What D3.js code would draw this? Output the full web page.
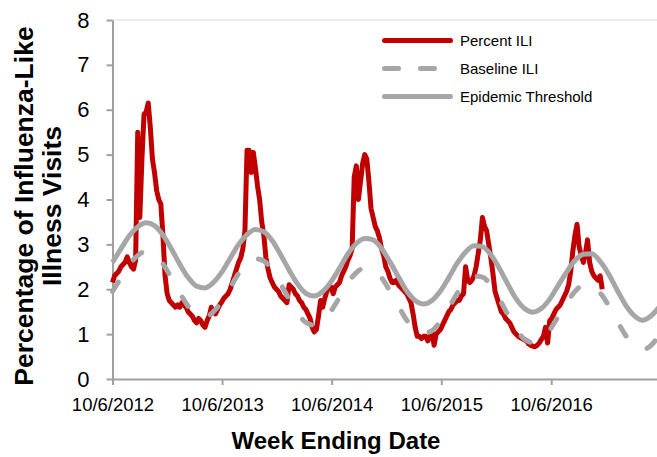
<!DOCTYPE html>
<html>
<head>
<meta charset="utf-8">
<script src="https://cdn.jsdelivr.net/npm/d3@7"></script>
<style>
  body { margin: 0; background: #fff; }
  svg { display: block; font-family: Arial, "Liberation Sans", sans-serif; }
</style>
</head>
<body>
<svg id="chart" width="657" height="457"></svg>
<script>
// week ending dates start here, one value per week
const firstWeek = new Date(2012, 9, 6);
const lastDate = new Date(2017, 8, 30);

// Percent ILI, weekly (2012-13 .. 2016-17 seasons)
const iliPercent = [
  // 2012-13
  2.15, 2.3, 2.35, 2.4, 2.5, 2.55, 2.6, 2.72, 2.6, 2.5, 2.45, 2.65, 5.5, 3.6, 4.9, 5.9, 5.95, 6.15, 5.6, 4.9,
  4.6, 4.2, 4.0, 3.9, 3.2, 2.3, 1.9, 1.75, 1.7, 1.65, 1.6, 1.65, 1.6, 1.7, 1.65, 1.6, 1.5, 1.45, 1.4, 1.3,
  1.25, 1.35, 1.3, 1.2, 1.15, 1.3, 1.4, 1.6, 1.5, 1.45, 1.55, 1.65,
  // 2013-14
  1.72, 1.8, 1.85, 1.9, 2.0, 2.15, 2.3, 2.45, 2.6, 2.7, 2.9, 3.3, 5.1, 5.1, 4.6, 5.05, 4.7, 4.3, 4.0, 3.5,
  3.2, 2.7, 2.45, 2.25, 2.15, 2.05, 2.0, 1.95, 1.85, 1.8, 1.75, 1.7, 2.1, 2.05, 2.0, 1.9, 1.85, 1.75, 1.7, 1.6,
  1.55, 1.45, 1.35, 1.15, 1.05, 1.1, 1.4, 1.75, 1.6, 1.8, 1.95, 2.05,
  // 2014-15
  2.05, 1.9, 2.05, 2.1, 2.15, 2.3, 2.4, 2.5, 2.65, 2.75, 2.9, 4.5, 4.75, 4.0, 4.4, 4.8, 5.0, 4.9, 4.4, 3.8,
  3.6, 3.4, 3.3, 3.15, 2.9, 2.75, 2.5, 2.4, 2.25, 2.15, 2.15, 2.2, 2.1, 2.05, 2.0, 1.95, 1.9, 1.8, 1.7, 1.45,
  1.15, 0.95, 0.95, 0.9, 0.95, 0.95, 0.85, 0.95, 1.05, 0.75, 1.0, 1.05,
  // 2015-16
  1.1, 1.2, 1.3, 1.4, 1.5, 1.55, 1.65, 1.7, 1.75, 1.75, 1.85, 1.9, 2.5, 2.2, 2.15, 2.2, 2.3, 2.5, 2.8, 3.1,
  3.6, 3.4, 3.3, 3.0, 2.7, 2.35, 1.95, 1.8, 1.65, 1.5, 1.45, 1.35, 1.3, 1.25, 1.15, 1.05, 1.0, 0.95, 0.92, 0.9,
  0.87, 0.85, 0.78, 0.75, 0.73, 0.72, 0.75, 0.8, 0.88, 0.95, 1.15, 0.8,
  // 2016-17
  1.3, 1.35, 1.45, 1.55, 1.6, 1.65, 1.75, 1.85, 1.95, 2.1, 2.4, 2.85, 3.2, 3.45, 2.95, 2.75, 2.6, 2.8, 3.1, 2.6,
  2.4, 2.3, 2.25, 2.2, 2.3, 2.0
];

// Epidemic threshold and baseline, read every 4 weeks
const curveStepWeeks = 4;
const thresholdValues = [
  2.60, 2.90, 3.19, 3.39, 3.48, 3.42, 3.21, 2.90, 2.56, 2.26, 2.07, 2.03, 2.15, 2.38, 2.69, 3.00, 3.22,
  3.33, 3.28, 3.08, 2.77, 2.43, 2.12, 1.91, 1.85, 1.95, 2.17, 2.47, 2.79, 3.02, 3.13, 3.10, 2.91, 2.61,
  2.28, 1.96, 1.75, 1.67, 1.75, 1.96, 2.26, 2.58, 2.83, 2.97, 2.95, 2.77, 2.47, 2.12, 1.79, 1.57, 1.49,
  1.57, 1.78, 2.08, 2.38, 2.64, 2.78, 2.79, 2.62, 2.34, 1.99, 1.66, 1.42, 1.31, 1.40, 1.60
];
const baselineValues = [
  1.95, 2.25, 2.55, 2.75, 2.85, 2.78, 2.57, 2.25, 1.92, 1.62, 1.42, 1.38, 1.50, 1.73, 2.04, 2.35, 2.57,
  2.68, 2.63, 2.43, 2.12, 1.78, 1.47, 1.26, 1.20, 1.30, 1.52, 1.82, 2.14, 2.37, 2.48, 2.45, 2.26, 1.96,
  1.63, 1.31, 1.10, 1.02, 1.08, 1.29, 1.59, 1.91, 2.16, 2.29, 2.27, 2.09, 1.79, 1.44, 1.11, 0.89, 0.81,
  0.88, 1.09, 1.39, 1.69, 1.95, 2.09, 2.09, 1.92, 1.64, 1.30, 0.98, 0.75, 0.65, 0.74, 0.97
];

const xTickDates = ["2012-10-06", "2013-10-06", "2014-10-06", "2015-10-06", "2016-10-06"];
const yTicks = [0, 1, 2, 3, 4, 5, 6, 7, 8];

const legendItems = [
  { name: "Percent ILI", key: "ili" },
  { name: "Baseline ILI", key: "baseline" },
  { name: "Epidemic Threshold", key: "threshold" }
];

const red = "#C00000";
const gray = "#A6A6A6";
const axisGray = "#A0A0A0";

const svg = d3.select("svg#chart");
const width = +svg.attr("width");
const height = +svg.attr("height");

svg.append("rect").attr("width", width).attr("height", height).attr("fill", "#fff");

const x = d3.scaleTime()
            .domain([firstWeek, lastDate])
            .range([112.5, 659]);
const y = d3.scaleLinear()
            .domain([0, 8])
            .range([379, 20]);

const parseDay = d3.timeParse("%Y-%m-%d");
const weekDate = i => d3.timeDay.offset(firstWeek, 7 * i);

const iliData = iliPercent.map((v, i) => ({ date: weekDate(i), value: v }));
const thresholdData = thresholdValues.map((v, i) => ({ date: weekDate(i * curveStepWeeks), value: v }));
const baselineData = baselineValues.map((v, i) => ({ date: weekDate(i * curveStepWeeks), value: v }));

// light border at the top of plot area
svg.append("line")
   .attr("x1", 112.5).attr("x2", width)
   .attr("y1", y(8)).attr("y2", y(8))
   .attr("stroke", "#D9D9D9").attr("stroke-width", 1);

// axes
const yAxis = svg.append("g")
                 .attr("transform", `translate(${x.range()[0]},0)`)
                 .call(d3.axisLeft(y).tickValues(yTicks).tickSize(6).tickSizeOuter(0).tickPadding(17));
yAxis.selectAll("text").style("font-size", "22px").attr("fill", "#000");

const xAxis = svg.append("g")
                 .attr("transform", `translate(0,${y(0)})`)
                 .call(d3.axisBottom(x)
                         .tickValues(xTickDates.map(parseDay))
                         .tickFormat(d3.timeFormat("%-m/%-d/%Y"))
                         .tickSize(6).tickSizeOuter(0).tickPadding(13));
xAxis.selectAll("text").style("font-size", "18.5px").attr("fill", "#000");

svg.selectAll(".domain, .tick line")
   .attr("stroke", axisGray)
   .attr("stroke-width", 2);

// series
const line = d3.line()
               .x(d => x(d.date))
               .y(d => y(d.value));
const smooth = d3.line()
                 .x(d => x(d.date))
                 .y(d => y(d.value))
                 .curve(d3.curveMonotoneX);

svg.append("path")
   .datum(iliData)
   .attr("fill", "none")
   .attr("stroke", red)
   .attr("stroke-width", 5)
   .attr("stroke-linejoin", "round")
   .attr("d", line);

svg.append("path")
   .datum(baselineData)
   .attr("fill", "none")
   .attr("stroke", gray)
   .attr("stroke-width", 5)
   .attr("stroke-linecap", "round")
   .attr("stroke-dasharray", "11,27")
   .attr("d", smooth);

svg.append("path")
   .datum(thresholdData)
   .attr("fill", "none")
   .attr("stroke", gray)
   .attr("stroke-width", 5)
   .attr("d", smooth);

// legend
const legend = svg.append("g").attr("transform", "translate(382,40.5)");
const item = legend.selectAll("g")
                   .data(legendItems)
                   .join("g")
                   .attr("transform", (d, i) => `translate(0,${i * 28})`);
item.append("line")
    .attr("x1", 2.5).attr("x2", 68.5)
    .attr("stroke", d => d.key === "ili" ? red : gray)
    .attr("stroke-width", 5)
    .attr("stroke-linecap", "round")
    .attr("stroke-dasharray", d => d.key === "baseline" ? "14,22" : null);
item.append("text")
    .attr("x", 78)
    .attr("y", 5.5)
    .style("font-size", "15px")
    .text(d => d.name);

// axis titles
svg.append("text")
   .attr("transform", "translate(33,206) rotate(-90)")
   .attr("text-anchor", "middle")
   .style("font-size", "26.5px")
   .style("font-weight", "bold")
   .selectAll("tspan")
   .data(["Percentage of Influenza-Like", "Illness Visits"])
   .join("tspan")
   .attr("x", 0)
   .attr("dy", (d, i) => i ? 28 : 0)
   .text(d => d);

svg.append("text")
   .attr("x", 336)
   .attr("y", 449)
   .attr("text-anchor", "middle")
   .style("font-size", "24px")
   .style("font-weight", "bold")
   .text("Week Ending Date");
</script>
</body>
</html>
